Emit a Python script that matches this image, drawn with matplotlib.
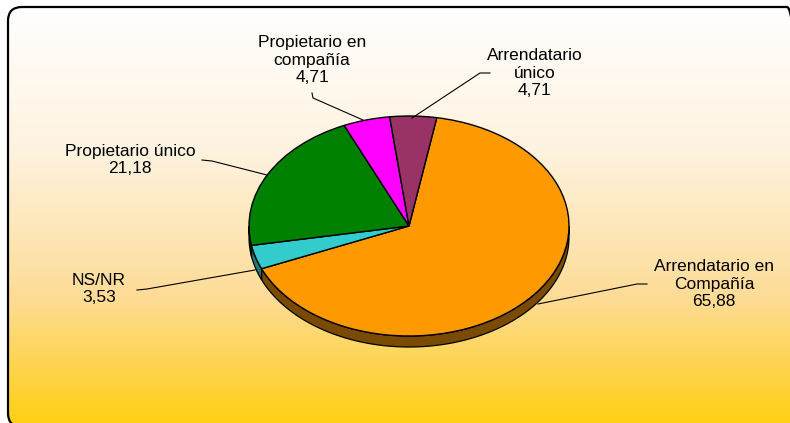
import numpy as np
import matplotlib.pyplot as plt
from matplotlib.patches import FancyBboxPatch, Polygon
from matplotlib.transforms import Affine2D
from matplotlib.colors import LinearSegmentedColormap

# data, in drawing order (clockwise from the top)
labels = ['Arrendatario en\nCompañía', 'NS/NR', 'Propietario único',
          'Propietario en\ncompañía', 'Arrendatario\núnico']
values = [65.88, 3.53, 21.18, 4.71, 4.71]
colors = ['#FF9900', '#33CCCC', '#008000', '#FF00FF', '#993366']
side_colors = ['#7A4A00', '#1F7A7A', '#004000', '#990099', '#5C1F3D']

# layout (pixels from top-left)
label_pos = [(714, 284), (99, 289), (130, 160), (312, 60), (535, 73)]
leaders = [
    [(647, 284), (637, 284), (538, 304)],
    [(137, 290), (147, 289), (255, 270)],
    [(202, 160), (212, 161), (267, 175)],
    [(312, 93), (313, 98), (363, 120)],
    [(490, 73), (480, 73), (412, 118)],
]

W, H = 790, 423
cx, cy = 409, H - 226
rx, ry = 160, 110
depth = 11
start = 80

plt.rcParams['font.family'] = ['Liberation Sans', 'DejaVu Sans']

fig = plt.figure(figsize=(W / 100, H / 100), dpi=100)
ax = fig.add_axes([0, 0, 1, 1])

# rounded frame with vertical gradient (runs past the right and bottom edges)
frame = FancyBboxPatch((8, -4), 793, H - 7 + 4, boxstyle='round,pad=0,rounding_size=14',
                       facecolor='none', edgecolor='black', linewidth=1.6, zorder=5)
ax.add_patch(frame)
grad = LinearSegmentedColormap.from_list(
    'bg', [(0.0, '#FFFFFF'), (0.35, '#FEF3E0'), (0.7, '#FDDC98'), (1.0, '#FFCF14')])
g = np.linspace(0, 1, 256).reshape(-1, 1)
img = ax.imshow(g, cmap=grad, extent=(0, W, 0, H), aspect='auto', origin='upper', zorder=0)
img.set_clip_path(frame)

# pie side walls
bounds = start - np.cumsum([0] + values) / sum(values) * 360
for i, col in enumerate(side_colors):
    t = np.radians(np.linspace(bounds[i + 1], bounds[i], 300))
    vis = np.sin(t) < 0
    if not vis.any():
        continue
    t = t[vis]
    xs = cx + rx * np.cos(t)
    ys = cy + ry * np.sin(t)
    pts = np.column_stack([np.r_[xs, xs[::-1]], np.r_[ys, ys[::-1] - depth]])
    ax.add_patch(Polygon(pts, closed=True, facecolor=col, edgecolor='black',
                         linewidth=0.9, zorder=2))

# top face
squash = Affine2D().translate(-cx, -cy).scale(1, ry / rx).translate(cx, cy) + ax.transData
wedges, _ = ax.pie(values, colors=colors, startangle=start, counterclock=False,
                   center=(cx, cy), radius=rx,
                   wedgeprops=dict(edgecolor='black', linewidth=1.0))
for w in wedges:
    w.set_transform(squash)
    w.set_zorder(3)

# labels and leader lines
for lab, v, (lx, ly), pts in zip(labels, values, label_pos, leaders):
    txt = lab + '\n' + f'{v:.2f}'.replace('.', ',')
    ax.text(lx, H - ly, txt, ha='center', va='center', fontsize=12.5,
            linespacing=1.18, color='black', zorder=6)
    p = np.array(pts, dtype=float)
    ax.plot(p[:, 0], H - p[:, 1], color='black', linewidth=0.8, zorder=4)

ax.set_xlim(0, W)
ax.set_ylim(0, H)
ax.set_aspect('auto')
ax.axis('off')
fig.savefig('out.png', dpi=100)
